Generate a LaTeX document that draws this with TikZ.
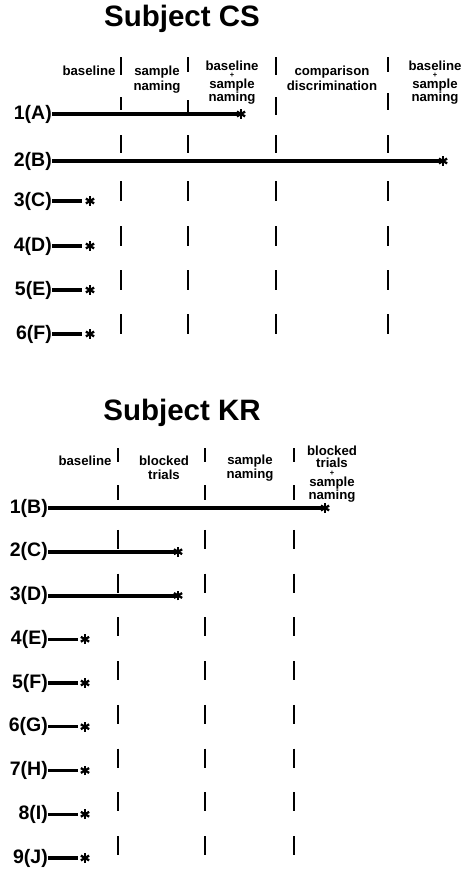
\documentclass[tikz,border=0pt]{standalone}
\usepackage{fontspec}
\setmainfont{Liberation Sans}
\newcommand\stopmark[1]{%
  \foreach \a in {90,30,150} \draw[star] (#1) +(\a:4.8) -- +(\a+180:4.8);}
\newcommand\pl{{\fontsize{7.5}{7.5}\selectfont +}}
\begin{document}
\begin{tikzpicture}[x=1pt,y=-1pt,
  title/.style={font=\fontsize{29.5}{32}\selectfont\bfseries, anchor=base, inner sep=0},
  head/.style={font=\fontsize{13.2}{14}\selectfont\bfseries, anchor=base, inner sep=0},
  stack/.style={font=\fontsize{13.2}{13}\selectfont\bfseries, anchor=north, inner sep=0, align=center},
  rowlab/.style={font=\fontsize{19.5}{21}\selectfont\bfseries, anchor=east, inner sep=0},
  bar/.style={line width=4pt},
  stub/.style={line width=3.3pt},
  sep/.style={line width=1.3pt},
  star/.style={line width=2.3pt},
]
\useasboundingbox (0,0) rectangle (475,871);

% ---------------- Subject CS ----------------
\node[title] (tcs) at (182,26) {Subject CS};

% phase headings
\node[head] (cs-h1) at (89,75) {baseline};
\node[head] (cs-h2a) at (157,75) {sample};
\node[head] (cs-h2b) at (157,90) {naming};
\node[stack] (cs-h3) at (232,60.4) {baseline\\[-5.5pt]\pl\\[-2.5pt]sample\\naming};
\node[head] (cs-h4a) at (332,75) {comparison};
\node[head] (cs-h4b) at (332,90) {discrimination};
\node[stack] (cs-h5) at (435,60.4) {baseline\\[-5.5pt]\pl\\[-2.5pt]sample\\naming};

% phase separators
\foreach \x/\a/\b/\c/\d in {121/57/75/97/110, 188/57/72/100/112, 276/57/75/97/115, 388/57/72/93/110}{
  \draw[sep] (\x,\a) -- (\x,\b);
  \draw[sep] (\x,\c) -- (\x,\d);
}
\foreach \x in {121,188,276,388}{
  \draw[sep] (\x,135) -- (\x,153);
  \foreach \y in {201,246,290,334}
    \draw[sep] (\x,\y-20) -- (\x,\y);
}

% participants
\node[rowlab] (cs1) at (52,114) {1(A)};
\coordinate (cs1e) at (241,114);
\draw[bar] (cs1.east) -- (cs1e);
\stopmark{cs1e}

\node[rowlab] (cs2) at (52,161) {2(B)};
\coordinate (cs2e) at (443,161);
\draw[bar] (cs2.east) -- (cs2e);
\stopmark{cs2e}

\foreach \n/\y/\l in {3/201/3(C), 4/246/4(D), 5/290/5(E), 6/334/6(F)}{
  \node[rowlab] (cs\n) at (52,\y) {\l};
  \coordinate (cs\n e) at (82,\y);
  \coordinate (cs\n s) at (90,\y);
  \draw[stub] (cs\n.east) -- (cs\n e);
  \stopmark{cs\n s}
}

% ---------------- Subject KR ----------------
\node[title] (tkr) at (182,420) {Subject KR};

\node[head] (kr-h1) at (85,465) {baseline};
\node[head] (kr-h2a) at (164,465) {blocked};
\node[head] (kr-h2b) at (164,479) {trials};
\node[head] (kr-h3a) at (250,464) {sample};
\node[head] (kr-h3b) at (250,478) {naming};
\node[stack] (kr-h4) at (332,445.4) {blocked\\[-1pt]trials\\[-5pt]\pl\\[-2pt]sample\\naming};

\foreach \x in {118,205,294}{
  \draw[sep] (\x,448) -- (\x,462);
  \draw[sep] (\x,485) -- (\x,500);
  \foreach \k in {1,...,8}
    \draw[sep] (\x,{508+43.75*\k-22}) -- (\x,{508+43.75*\k-3});
}

\node[rowlab] (kr1) at (48,508) {1(B)};
\coordinate (kr1e) at (325,508);
\draw[bar] (kr1.east) -- (kr1e);
\stopmark{kr1e}

\node[rowlab] (kr2) at (48,551.75) {2(C)};
\coordinate (kr2e) at (178,551.75);
\draw[bar] (kr2.east) -- (kr2e);
\stopmark{kr2e}

\node[rowlab] (kr3) at (48,595.5) {3(D)};
\coordinate (kr3e) at (178,595.5);
\draw[bar] (kr3.east) -- (kr3e);
\stopmark{kr3e}

\foreach \n/\l in {4/4(E), 5/5(F), 6/6(G), 7/7(H), 8/8(I), 9/9(J)}{
  \pgfmathsetmacro\yy{508+43.75*(\n-1)}
  \node[rowlab] (kr\n) at (48,\yy) {\l};
  \coordinate (kr\n e) at (78,\yy);
  \coordinate (kr\n s) at (85,\yy);
  \draw[stub] (kr\n.east) -- (kr\n e);
  \stopmark{kr\n s}
}
\end{tikzpicture}
\end{document}
